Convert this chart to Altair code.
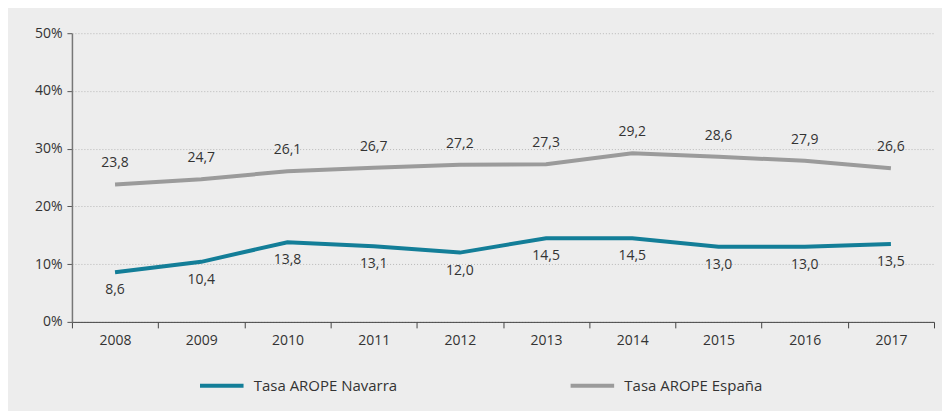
import altair as alt
import pandas as pd

years = ["2008", "2009", "2010", "2011", "2012", "2013", "2014", "2015", "2016", "2017"]
navarra = [8.6, 10.4, 13.8, 13.1, 12.0, 14.5, 14.5, 13.0, 13.0, 13.5]
espana = [23.8, 24.7, 26.1, 26.7, 27.2, 27.3, 29.2, 28.6, 27.9, 26.6]
series_names = ["Tasa AROPE Navarra", "Tasa AROPE España"]
colors = ["#137e98", "#9b9b9b"]
y_ticks = [0, 10, 20, 30, 40, 50]

rows = []
for name, vals in zip(series_names, [navarra, espana]):
    for yr, v in zip(years, vals):
        rows.append({"year": yr, "value": v, "series": name,
                     "label": f"{v:.1f}".replace(".", ",")})
df = pd.DataFrame(rows)

FONT = "Open Sans"

x_enc = alt.X("year:O", title=None,
              scale=alt.Scale(type="band", paddingInner=0, paddingOuter=0),
              axis=alt.Axis(labelAngle=0, tickBand="extent", domainColor="#444",
                            tickColor="#444", tickSize=6, labelPadding=6,
                            labelFontSize=14, labelColor="#333", labelFont=FONT,
                            grid=False))
y_enc = alt.Y("value:Q", title=None,
              scale=alt.Scale(domain=[0, 50], nice=False),
              axis=alt.Axis(values=y_ticks, labelExpr="datum.value + '%'",
                            domainColor="#777", domainWidth=1.5, tickColor="#555",
                            tickSize=5, labelPadding=5, labelFontSize=14,
                            labelColor="#333", labelFont=FONT,
                            grid=True, gridColor="#b8b8b8", gridDash=[1, 2],
                            gridWidth=1))

base = alt.Chart(df)

lines = base.mark_line(strokeWidth=4).encode(
    x=x_enc, y=y_enc,
    color=alt.Color("series:N", sort=series_names,
                    scale=alt.Scale(domain=series_names, range=colors),
                    legend=alt.Legend(title=None)),
)

text_esp = base.transform_filter(alt.datum.series == series_names[1]).mark_text(
    dy=-21, fontSize=14, color="#333", font=FONT).encode(
    x="year:O", y="value:Q", text="label:N")

text_nav = base.transform_filter(alt.datum.series == series_names[0]).mark_text(
    dy=18, fontSize=14, color="#333", font=FONT).encode(
    x="year:O", y="value:Q", text="label:N")

chart = alt.layer(lines, text_esp, text_nav).properties(
    width=863, height=289, background="#ededed",
    autosize=alt.AutoSizeParams(type="none"),
    padding={"left": 64, "top": 25, "right": 8, "bottom": 92},
).configure_view(stroke=None).configure_legend(
    orient="none", legendX=126, legendY=329, direction="horizontal",
    symbolType="stroke", symbolStrokeWidth=4, symbolSize=1900,
    labelFontSize=15, labelColor="#333", labelFont=FONT,
    columnPadding=165, labelOffset=8,
)

chart.save("out.html", embed_options={"renderer": "svg", "actions": False})
